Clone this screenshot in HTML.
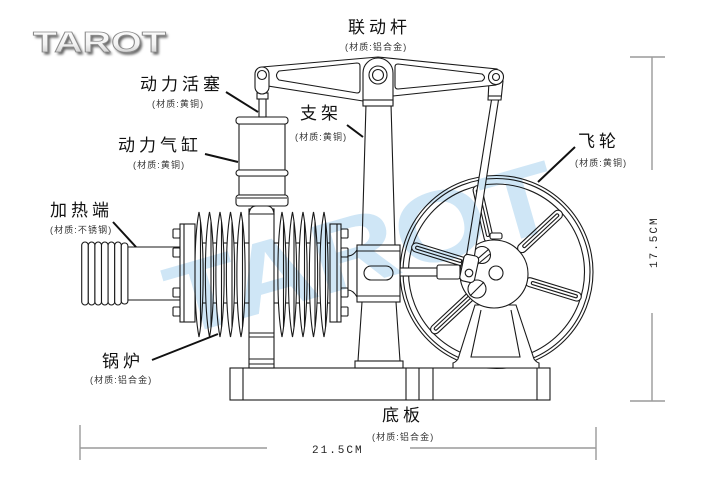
<!DOCTYPE html>
<html><head><meta charset="utf-8">
<style>
html,body{margin:0;padding:0;background:#fff;}
svg{display:block;}
.l{fill:#fff;stroke:#1a1a1a;stroke-width:1.1;}
.n{fill:none;stroke:#1a1a1a;stroke-width:1.1;}
.cn{font-family:"Liberation Sans","Noto Sans CJK SC",sans-serif;fill:#111;font-size:17px;letter-spacing:4px;}
.sb{font-family:"Liberation Sans","Noto Sans CJK SC",sans-serif;fill:#333;font-size:9px;letter-spacing:1.1px;}
.ld{stroke:#111;stroke-width:2;fill:none;}
.dm{stroke:#9a9a9a;stroke-width:1.4;fill:none;}
.dt{font-family:"Liberation Mono",monospace;font-size:11px;fill:#222;letter-spacing:2px;}
</style></head><body>
<svg width="720" height="480" viewBox="0 0 720 480" xmlns="http://www.w3.org/2000/svg">
<defs>
<linearGradient id="g" x1="0" y1="0" x2="0" y2="1"><stop offset="0" stop-color="#ffffff"/><stop offset="0.55" stop-color="#f2f2f2"/><stop offset="1" stop-color="#b8b8b8"/></linearGradient>
<filter id="sh" x="-10%" y="-30%" width="120%" height="160%"><feGaussianBlur stdDeviation="1.3"/></filter>
</defs>
<rect width="720" height="480" fill="#fff"/>

<!-- Logo -->
<text x="35" y="54.5" font-family="Liberation Sans" font-weight="bold" font-size="29" textLength="133" lengthAdjust="spacingAndGlyphs" fill="#666" filter="url(#sh)">TAROT</text>
<text x="33" y="52" font-family="Liberation Sans" font-weight="bold" font-size="29" textLength="133" lengthAdjust="spacingAndGlyphs" fill="url(#g)" stroke="#8a8a8a" stroke-width="0.8">TAROT</text>

<!-- Base plate -->
<rect class="l" x="230" y="368" width="320" height="32"/>
<path class="n" d="M243,368V400 M406,368V400 M419,368V400 M433,368V400 M537,368V400"/>

<!-- Heater -->
<path class="n" d="M128,247H180 M128,300H180"/>
<g class="l">
<rect x="81.7" y="242" width="6.6" height="63" rx="3.3"/>
<rect x="88.3" y="242" width="6.6" height="63" rx="3.3"/>
<rect x="94.9" y="242" width="6.6" height="63" rx="3.3"/>
<rect x="101.5" y="242" width="6.6" height="63" rx="3.3"/>
<rect x="108.1" y="242" width="6.6" height="63" rx="3.3"/>
<rect x="114.7" y="242" width="6.6" height="63" rx="3.3"/>
<rect x="121.3" y="243" width="6.6" height="61" rx="3"/>
</g>

<!-- Boiler core -->
<rect class="l" x="192" y="243" width="140" height="60"/>
<!-- Fins -->
<g class="l">
<path d="M199,212C204.5,240 204.5,309 199,337C193.5,309 193.5,240 199,212Z"/>
<path d="M209.5,212C215,240 215,309 209.5,337C204,309 204,240 209.5,212Z"/>
<path d="M220,212C225.5,240 225.5,309 220,337C214.5,309 214.5,240 220,212Z"/>
<path d="M230.5,212C236,240 236,309 230.5,337C225,309 225,240 230.5,212Z"/>
<path d="M241,212C246.5,240 246.5,309 241,337C235.5,309 235.5,240 241,212Z"/>
<path d="M282,212C287.5,240 287.5,309 282,337C276.5,309 276.5,240 282,212Z"/>
<path d="M292.5,212C298,240 298,309 292.5,337C287,309 287,240 292.5,212Z"/>
<path d="M303,212C308.5,240 308.5,309 303,337C297.5,309 297.5,240 303,212Z"/>
<path d="M313.5,212C319,240 319,309 313.5,337C308,309 308,240 313.5,212Z"/>
<path d="M324,212C329.5,240 329.5,309 324,337C318.5,309 318.5,240 324,212Z"/>
</g>
<g class="n" stroke-width="0.6">
<path d="M200.5,222V327 M211,222V327 M221.5,222V327 M232,222V327 M242.5,222V327 M283.5,222V327 M294,222V327 M304.5,222V327 M315,222V327 M325.5,222V327"/>
</g>
<!-- End plates and bolts -->
<rect class="l" x="180" y="224" width="15" height="98"/>
<path class="n" d="M184,224V322"/>
<g class="l">
<rect x="173" y="229" width="7" height="9" rx="1"/>
<rect x="173" y="248" width="7" height="9" rx="1"/>
<rect x="173" y="288" width="7" height="9" rx="1"/>
<rect x="173" y="307" width="7" height="9" rx="1"/>
</g>
<rect class="l" x="330" y="224" width="11" height="98"/>
<path class="n" d="M337,224V322"/>
<g class="l">
<rect x="341" y="229" width="7" height="9" rx="1"/>
<rect x="341" y="248" width="7" height="9" rx="1"/>
<rect x="341" y="288" width="7" height="9" rx="1"/>
<rect x="341" y="307" width="7" height="9" rx="1"/>
</g>
<path class="l" d="M348,256Q353,256 357,250V297Q353,290 348,290Z"/>

<!-- Central column -->
<rect class="l" x="249" y="209" width="25" height="159"/>
<path class="n" d="M249,333H274 M249,337H274 M249,359H274 M249,364H274"/>
<path class="l" d="M249,214Q250,206 256,206H267Q273,206 274,214Z"/>

<!-- Power cylinder -->
<rect class="l" x="239" y="124" width="46" height="46"/>
<rect class="l" x="239" y="176" width="46" height="19"/>
<rect class="l" x="236" y="117" width="52" height="7" rx="3"/>
<rect class="l" x="236" y="170" width="52" height="6" rx="3"/>
<rect class="l" x="236" y="195" width="52" height="11" rx="3"/>
<path class="n" d="M237,198H287"/>

<!-- Piston rod -->
<rect class="l" x="259" y="98" width="7" height="19"/>
<rect class="l" x="257" y="93" width="11" height="6"/>

<!-- Flywheel -->
<circle class="l" cx="496.5" cy="272" r="96.5"/>
<circle class="n" cx="496.5" cy="272" r="93.5"/>
<circle class="n" cx="496.5" cy="272" r="88"/>
<g>
<g transform="rotate(17 496.5 272)"><rect class="l" x="527" y="267.5" width="58" height="9" rx="4.5"/><rect class="n" x="533" y="270.5" width="48" height="3" rx="1.5"/></g>
<g transform="rotate(77 496.5 272)"><rect class="l" x="527" y="267.5" width="58" height="9" rx="4.5"/><rect class="n" x="533" y="270.5" width="48" height="3" rx="1.5"/></g>
<g transform="rotate(137 496.5 272)"><rect class="l" x="527" y="267.5" width="58" height="9" rx="4.5"/><rect class="n" x="533" y="270.5" width="48" height="3" rx="1.5"/></g>
<g transform="rotate(197 496.5 272)"><rect class="l" x="527" y="267.5" width="58" height="9" rx="4.5"/><rect class="n" x="533" y="270.5" width="48" height="3" rx="1.5"/></g>
<g transform="rotate(257 496.5 272)"><rect class="l" x="527" y="267.5" width="58" height="9" rx="4.5"/><rect class="n" x="533" y="270.5" width="48" height="3" rx="1.5"/></g>
<g transform="rotate(317 496.5 272)"><rect class="l" x="527" y="267.5" width="58" height="9" rx="4.5"/><rect class="n" x="533" y="270.5" width="48" height="3" rx="1.5"/></g>
</g>
<!-- Pedestal -->
<path class="l" d="M475,305L458,359Q456,362 453,363V368H539V363Q536,362 534,359L516,305Z"/>
<path class="n" d="M481,310L471,357H520L511,310"/>
<!-- Hub -->
<rect class="l" x="490" y="233" width="12" height="6" rx="2"/>
<circle class="l" cx="494" cy="274" r="34"/>
<circle class="n" cx="496" cy="273" r="7"/>
<circle class="n" cx="482" cy="255" r="8.5"/>
<circle class="n" cx="477" cy="289" r="9"/>
<path class="n" d="M474,262L489,249 M470,296L484,282 M478,264L490,254"/>

<!-- Support column -->
<path class="l" d="M366,104L362,245H395L391,104Z"/>
<rect class="l" x="357" y="245" width="43" height="57"/>
<path class="n" d="M357,251H400 M357,296H400"/>
<rect class="l" x="364" y="266" width="29" height="14" rx="7"/>
<path class="l" d="M362,302L358,361H400L396,302Z"/>
<rect class="l" x="355" y="361" width="48" height="7"/>

<!-- Displacer rod and crank -->
<rect class="l" x="400" y="268" width="39" height="8"/>
<rect class="l" x="437" y="265" width="23" height="14" rx="2"/>
<!-- Connecting rod -->
<path class="l" d="M491.5,100L465.5,262H473.5L498.5,100Z"/>
<path class="l" d="M489,81H503L501,100H488Z"/>
<path class="n" d="M488.3,96H501.5"/>
<rect class="l" x="461" y="255" width="15" height="27" rx="4" transform="rotate(12 469 272)"/>
<circle class="l" cx="469" cy="273" r="3.8"/>

<!-- Beam -->
<path class="l" d="M262,67L378,57L497,69L496,85L393,96L363,101L268,86Z"/>
<path class="n" d="M279,71L357,63Q360,63 360,66V90Q360,93 357,93L279,80Q274,75.5 279,71Z"/>
<path class="n" d="M398,64L482,74Q487,77.5 482,81L398,89Q395,89 395,86V67Q395,64 398,64Z"/>
<path class="l" d="M363,104V73A15,15 0 0 1 393,73V104Z"/>
<rect class="l" x="363" y="100" width="30" height="6"/>
<circle class="l" cx="378" cy="75" r="9"/>
<circle class="n" cx="378" cy="75" r="5.5"/>
<rect class="l" x="255" y="67" width="14" height="27" rx="7"/>
<circle class="l" cx="262" cy="75" r="4.5"/>
<circle class="l" cx="496" cy="77" r="7.5"/>
<circle class="n" cx="496" cy="77" r="3.5"/>

<!-- Watermark overlay -->
<text x="0" y="0" transform="translate(178,337) rotate(-16)" font-family="Liberation Sans" font-weight="bold" font-size="100" textLength="402" lengthAdjust="spacingAndGlyphs" fill="#cfe6f6" style="mix-blend-mode:multiply">TAROT</text>

<!-- Leaders -->
<path class="ld" d="M226,92L258,112 M347,125L363,137 M205,154L238,162 M113,222L136,247 M152,360L218,334 M575,147L538,182"/>

<!-- Labels -->
<text class="cn" x="348" y="33">联动杆</text>
<text class="sb" x="345" y="50">(材质:铝合金)</text>
<text class="cn" x="140" y="90">动力活塞</text>
<text class="sb" x="152" y="107">(材质:黄铜)</text>
<text class="cn" x="300" y="119">支架</text>
<text class="sb" x="295" y="140">(材质:黄铜)</text>
<text class="cn" x="118" y="151">动力气缸</text>
<text class="sb" x="133" y="168">(材质:黄铜)</text>
<text class="cn" x="50" y="216">加热端</text>
<text class="sb" x="50" y="233">(材质:不锈钢)</text>
<text class="cn" x="102" y="367">锅炉</text>
<text class="sb" x="90" y="383">(材质:铝合金)</text>
<text class="cn" x="382" y="421">底板</text>
<text class="sb" x="372" y="440">(材质:铝合金)</text>
<text class="cn" x="578" y="147">飞轮</text>
<text class="sb" x="575" y="166">(材质:黄铜)</text>

<!-- Dimensions -->
<path class="dm" d="M630,57H665 M652,57V170 M652,313V401 M630,401H665"/>
<text class="dt" x="0" y="0" transform="translate(657,268) rotate(-90)">17.5CM</text>
<path class="dm" d="M80,425V460 M80,448H267 M410,448H596 M596,427V460"/>
<text class="dt" x="312" y="453">21.5CM</text>
</svg>
</body></html>
